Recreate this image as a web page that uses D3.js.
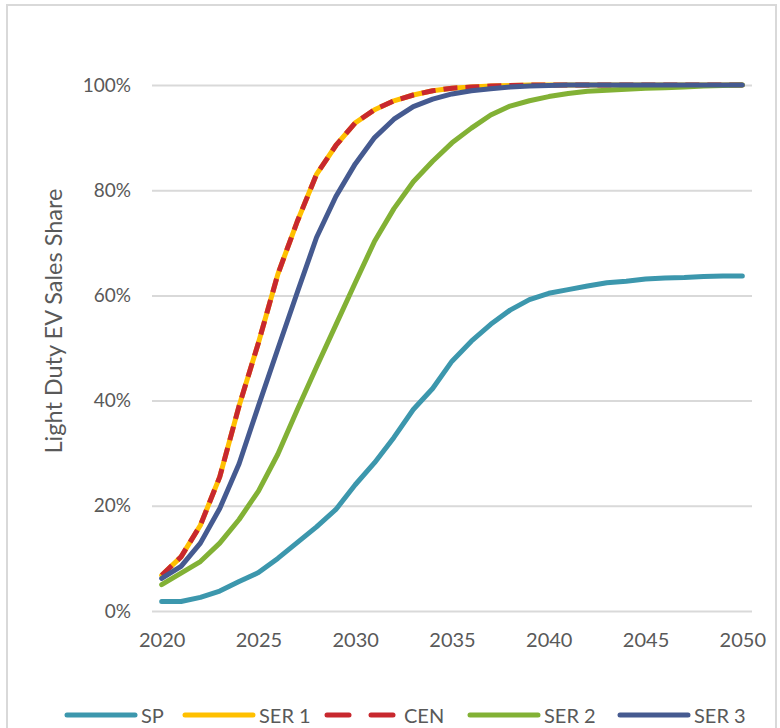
<!DOCTYPE html>
<html>
<head>
<meta charset="utf-8">
<script src="https://cdn.jsdelivr.net/npm/d3@7"></script>
<style>
  html, body { margin: 0; padding: 0; background: #ffffff; }
  svg { display: block; font-family: Lato, "Open Sans", sans-serif; }
</style>
</head>
<body>
<svg id="chart" width="780" height="728"></svg>
<script>
// ---- data ----
const years = [2020,2021,2022,2023,2024,2025,2026,2027,2028,2029,2030,2031,2032,2033,2034,2035,
               2036,2037,2038,2039,2040,2041,2042,2043,2044,2045,2046,2047,2048,2049,2050];
const xTickYears = [2020, 2025, 2030, 2035, 2040, 2045, 2050];
const yTicks = [0, 0.2, 0.4, 0.6, 0.8, 1.0];

const seriesNames = ["SP", "SER 1", "CEN", "SER 2", "SER 3"];

const spValues = [1.8,1.8,2.6,3.8,5.6,7.3,10.0,13.0,16.0,19.3,24.0,28.2,33.0,38.3,42.3,47.5,
                  51.3,54.5,57.2,59.2,60.4,61.1,61.8,62.4,62.7,63.1,63.3,63.4,63.6,63.7,63.7];
const ser1Values = [6.8,10.3,16.3,25.5,39.0,51.0,64.0,74.0,83.0,88.5,92.8,95.3,97.0,98.1,98.9,99.4,
                    99.6,99.8,99.9,100,100,100,100,100,100,100,100,100,100,100,100];
const cenValues = [6.8,10.3,16.3,25.5,39.0,51.0,64.0,74.0,83.0,88.5,92.8,95.3,97.0,98.1,98.9,99.4,
                   99.6,99.8,99.9,100,100,100,100,100,100,100,100,100,100,100,100];
const ser2Values = [5.0,7.2,9.4,12.9,17.4,22.8,29.8,38.2,46.4,54.4,62.4,70.3,76.5,81.6,85.5,89.0,
                    91.8,94.3,96.0,97.0,97.8,98.4,98.8,99.0,99.2,99.4,99.5,99.6,99.8,99.9,100];
const ser3Values = [6.2,8.5,12.9,19.5,28.0,39.0,49.8,60.5,71.0,78.8,85.0,90.0,93.5,95.9,97.3,98.3,
                    98.9,99.3,99.6,99.8,99.9,100,100,100,100,100,100,100,100,100,100];

const seriesColors = ["#3C97AD", "#FFC000", "#C8282E", "#82B135", "#455A90"];
const seriesDashed = [false, false, true, false, false];
const seriesValues = [spValues, ser1Values, cenValues, ser2Values, ser3Values];

// ---- layout ----
const svg = d3.select("#chart");
const textColor = "#595959";
const gridColor = "#D9D9D9";
const fontSize = 19;

// outer border
svg.append("rect")
  .attr("x", 7).attr("y", 5).attr("width", 769).attr("height", 740)
  .attr("fill", "none").attr("stroke", "#D9D9D9").attr("stroke-width", 2);

const plotLeft = 152, plotRight = 752, plotTop = 85, plotBottom = 611;

const x = d3.scalePoint().domain(years).range([plotLeft, plotRight]).padding(0.5);
const y = d3.scaleLinear().domain([0, 1]).range([plotBottom, plotTop]);

// y axis with gridlines
const yAxis = svg.append("g")
  .attr("transform", `translate(${plotLeft},0)`)
  .call(d3.axisLeft(y).tickValues(yTicks).tickFormat(d3.format(".0%"))
        .tickSize(-(plotRight - plotLeft)).tickPadding(21));
yAxis.select(".domain").remove();
yAxis.selectAll(".tick line").attr("stroke", gridColor).attr("stroke-width", 2);
yAxis.selectAll(".tick text").attr("fill", textColor)
  .style("font-size", fontSize + "px").style("font-family", "Lato, sans-serif");

// x axis
const xAxis = svg.append("g")
  .attr("transform", `translate(0,${plotBottom})`)
  .call(d3.axisBottom(x).tickValues(xTickYears).tickSize(0).tickPadding(22));
xAxis.select(".domain").remove();
xAxis.selectAll(".tick text").attr("fill", textColor)
  .style("font-size", "20px").style("font-family", "Lato, sans-serif");

// y title
svg.append("text")
  .attr("transform", `translate(53,321) rotate(-90)`)
  .attr("text-anchor", "middle")
  .attr("dominant-baseline", "central")
  .attr("fill", textColor)
  .style("font-size", "23.5px")
  .text("Light Duty EV Sales Share");

// lines
const line = d3.line()
  .x((d, i) => x(years[i]))
  .y(d => y(d / 100));

seriesValues.forEach((vals, k) => {
  svg.append("path")
    .datum(vals)
    .attr("d", line)
    .attr("fill", "none")
    .attr("stroke", seriesColors[k])
    .attr("stroke-width", 5)
    .attr("stroke-linejoin", "round")
    .attr("stroke-linecap", seriesDashed[k] ? "butt" : "round")
    .attr("stroke-dasharray", seriesDashed[k] ? "14,8" : null);
});

// legend (item start positions taken from reference layout)
const legendY = 715;
const legendStarts = [65, 183, 325, 468, 618];
const legend = svg.append("g");
seriesNames.forEach((name, k) => {
  const x0 = legendStarts[k];
  const g = legend.append("g");
  if (seriesDashed[k]) {
    g.append("line").attr("x1", x0 + 2).attr("x2", x0 + 24)
      .attr("y1", legendY).attr("y2", legendY)
      .attr("stroke", seriesColors[k]).attr("stroke-width", 5).attr("stroke-linecap", "round");
    g.append("line").attr("x1", x0 + 46).attr("x2", x0 + 68)
      .attr("y1", legendY).attr("y2", legendY)
      .attr("stroke", seriesColors[k]).attr("stroke-width", 5).attr("stroke-linecap", "round");
  } else {
    g.append("line").attr("x1", x0 + 2).attr("x2", x0 + 70)
      .attr("y1", legendY).attr("y2", legendY)
      .attr("stroke", seriesColors[k]).attr("stroke-width", 5).attr("stroke-linecap", "round");
  }
  g.append("text")
    .attr("x", x0 + (seriesDashed[k] ? 79 : 76))
    .attr("y", legendY)
    .attr("dominant-baseline", "central")
    .attr("fill", textColor)
    .style("font-size", "20px")
    .text(name);
});
</script>
</body>
</html>
